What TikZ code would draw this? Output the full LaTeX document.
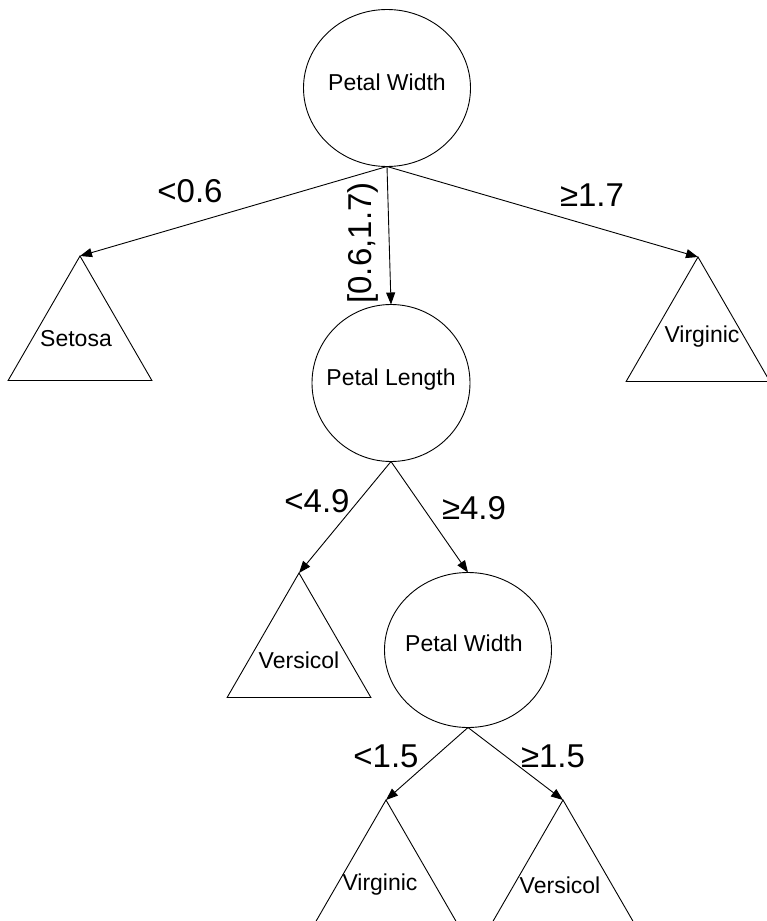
\documentclass[tikz,border=0pt]{standalone}
\usepackage{fontspec}
\setmainfont{Liberation Sans}
\usetikzlibrary{shapes.geometric,arrows.meta}
\begin{document}
\begin{tikzpicture}[x=1pt,y=-1pt,
  nodetxt/.style={font=\fontsize{23}{27}\selectfont, inner sep=0pt},
  edgelab/.style={font=\fontsize{33}{38}\selectfont, inner sep=0pt},
  ell/.style={draw, ellipse, line width=0.9pt, inner sep=0pt, outer sep=0pt},
  tri/.style={draw, regular polygon, regular polygon sides=3, minimum size=166pt, inner sep=0pt, outer sep=0pt, line width=0.9pt},
  arr/.style={-{Triangle[length=12pt,width=9pt]}, line width=0.9pt}]
\useasboundingbox (0,0) rectangle (767,921);
\clip (0,0) rectangle (767,921);
% decision nodes
\node[ell, minimum width=167pt, minimum height=157pt, label={[nodetxt, yshift=6pt]center:Petal Width}] (root) at (387,88) {};
\node[ell, minimum width=158pt, minimum height=157pt, label={[nodetxt, yshift=3pt]center:Petal Length}] (pl) at (391,383) {};
\node[ell, minimum width=167pt, minimum height=155pt, label={[nodetxt, yshift=7pt, xshift=-4pt]center:Petal Width}] (pw) at (468,650) {};
% leaves
\node[tri, label={[nodetxt, xshift=-4pt]center:Setosa}] (setosa) at (80,339) {};
\node[tri, label={[nodetxt, xshift=4pt, yshift=3pt]center:Virginic}] (virg1) at (698,340) {};
\node[tri, label={[nodetxt, yshift=-4pt]center:Versicol}] (vers1) at (299,656) {};
\node[tri, label={[nodetxt, xshift=-6pt, yshift=-2pt]center:Virginic}] (virg2) at (386,883) {};
\node[tri, label={[nodetxt, xshift=-3pt, yshift=-2pt]center:Versicol}] (vers2) at (563,883) {};
% connectors
\draw[arr] (root.south) -- (setosa.corner 1);
\draw[arr] (root.south) -- (pl.north);
\draw[arr] (root.south) -- (virg1.corner 1);
\draw[arr] (pl.south) -- (vers1.corner 1);
\draw[arr] (pl.south) -- (pw.north);
\draw[arr] (pw.south) -- (virg2.corner 1);
\draw[arr] (pw.south) -- (vers2.corner 1);
% edge labels
\node[edgelab] (l1) at (190,191) {<0.6};
\node[edgelab, rotate=90] (l2) at (363,243) {[0.6,1.7)};
\node[edgelab] (l3) at (592,195) {≥1.7};
\node[edgelab] (l4) at (317,501) {<4.9};
\node[edgelab] (l5) at (474,508) {≥4.9};
\node[edgelab] (l6) at (386,756) {<1.5};
\node[edgelab] (l7) at (553,756) {≥1.5};
\end{tikzpicture}
\end{document}
